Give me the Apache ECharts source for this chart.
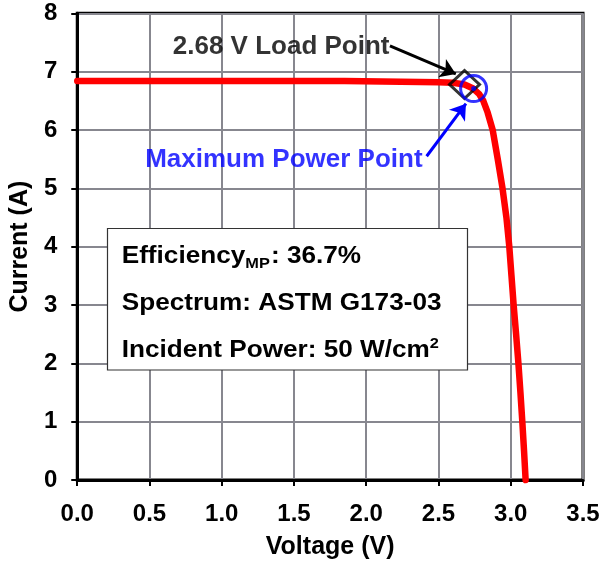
<!DOCTYPE html>
<html><head><meta charset="utf-8">
<script src="https://cdn.jsdelivr.net/npm/echarts@6/dist/echarts.min.js"></script>
<style>html,body{margin:0;padding:0;background:#fff}#c{width:604px;height:565px}</style>
</head><body><div id="c"></div>
<script>
// ---- data ----
const xTickLabels = ['0.0','0.5','1.0','1.5','2.0','2.5','3.0','3.5'];
const yTickLabels = ['0','1','2','3','4','5','6','7','8'];
const voltage = [0, 1.85, 1.85, 2.50, 2.60, 2.68, 2.74, 2.78, 2.81, 2.84, 2.875, 2.91, 2.943, 2.97, 2.99, 3.005, 3.02, 3.037, 3.053, 3.067, 3.08, 3.092, 3.103];
const current = [6.84, 6.84, 6.82, 6.82, 6.81, 6.78, 6.71, 6.62, 6.50, 6.30, 6.00, 5.50, 5.00, 4.50, 4.00, 3.50, 3.00, 2.50, 2.00, 1.50, 1.00, 0.50, 0];
const loadPoint = [2.68, 6.78];
const maxPowerPoint = [2.743, 6.71];
const loadArrow = [[2.164, 7.44], [2.62, 6.96]];
const mppArrow = [[2.418, 5.55], [2.69, 6.45]];
const loadLabel = {text: '2.68 V Load Point', at: [1.411, 7.42]};
const mppLabel = {text: 'Maximum Power Point', at: [1.43, 5.49]};
const xName = 'Voltage (V)';
const yName = 'Current (A)';
const infoLines = [
  [['Efficiency', 'n'], ['MP', 'sub'], [': 36.7%', 'n']],
  [['Spectrum: ASTM G173-03', 'n']],
  [['Incident Power: 50 W/cm', 'n'], ['2', 'sup']]
];

const FONT = '"Liberation Sans", Arial, sans-serif';
const chart = echarts.init(document.getElementById('c'), null, {renderer: 'canvas'});

// text measure helper for the info box layout
const mctx = document.createElement('canvas').getContext('2d');
function tw(t, size) { mctx.font = 'bold ' + size + 'px ' + FONT; return mctx.measureText(t).width; }

const boxX = 107.5, boxY = 228.5, boxW = 360, boxH = 141.5;
const baselines = [264, 310.7, 357.7];
const infoChildren = [{
  type: 'rect', z: 100, shape: {x: boxX, y: boxY, width: boxW, height: boxH},
  style: {fill: '#fff', stroke: '#333', lineWidth: 1.2}
}];
const textGroupChildren = [];
infoLines.forEach((line, li) => {
  let x = 0;
  line.forEach(([t, kind]) => {
    const size = kind === 'n' ? 24 : 15;
    const dy = kind === 'sub' ? 5 : kind === 'sup' ? -9 : 0;
    textGroupChildren.push({
      type: 'text', z: 101,
      style: {text: t, x: x, y: baselines[li] + dy - size * 0.32, font: 'bold ' + size + 'px ' + FONT,
        fill: '#000', textAlign: 'left', textVerticalAlign: 'middle'}
    });
    x += tw(t, size) + (kind !== 'n' ? 1 : 0);
  });
});
infoChildren.push({type: 'group', z: 101, x: 121.7, y: 0, scaleX: 1.09, children: textGroupChildren});

const option = {
  animation: false,
  backgroundColor: '#fff',
  grid: {left: 72, right: 21, top: 13.3, bottom: 83.3, show: true, borderColor: '#000', borderWidth: 3, containLabel: false},
  xAxis: {
    type: 'value', min: 0, max: 3.5, interval: 0.5,
    name: xName, nameLocation: 'middle', nameGap: 55,
    nameTextStyle: {fontSize: 25, fontWeight: 'bold', color: '#000', fontFamily: FONT},
    axisLine: {show: true, onZero: false, lineStyle: {color: '#000', width: 3}},
    axisTick: {show: true, length: 6, lineStyle: {color: '#000', width: 2}},
    axisLabel: {formatter: (v, i) => xTickLabels[i], fontSize: 24, fontWeight: 'bold', color: '#000', margin: 22, fontFamily: FONT},
    splitLine: {show: true, lineStyle: {color: '#87878f', width: 2}}
  },
  yAxis: {
    type: 'value', min: 0, max: 8, interval: 1,
    name: yName, nameLocation: 'middle', nameGap: 34, nameRotate: 90,
    nameTextStyle: {fontSize: 25, fontWeight: 'bold', color: '#000', fontFamily: FONT},
    axisLine: {show: true, onZero: false, lineStyle: {color: '#000', width: 3}},
    axisTick: {show: true, length: 6, lineStyle: {color: '#000', width: 2}},
    axisLabel: {formatter: (v, i) => yTickLabels[i], fontSize: 24, fontWeight: 'bold', color: '#000', margin: 20, fontFamily: FONT},
    splitLine: {show: true, lineStyle: {color: '#87878f', width: 2}}
  },
  series: [
    {
      type: 'line', name: 'IV', data: voltage.map((v, i) => [v, current[i]]),
      symbol: 'none', smooth: false, clip: false, z: 3,
      lineStyle: {color: '#ff0000', width: 6.5, cap: 'round', join: 'round'}
    },
    {
      type: 'scatter', name: 'Load', data: [loadPoint], symbol: 'diamond', symbolSize: [30, 28], z: 4,
      itemStyle: {color: 'rgba(0,0,0,0)', borderColor: '#000', borderWidth: 3}
    },
    {
      type: 'scatter', name: 'MPP', data: [maxPowerPoint], symbol: 'circle', symbolSize: 26, z: 5,
      itemStyle: {color: 'rgba(0,0,0,0)', borderColor: '#0000ff', borderWidth: 3}
    },
    {
      type: 'scatter', name: 'MPPdot', data: [maxPowerPoint], symbol: 'circle', symbolSize: 5, z: 6,
      itemStyle: {color: '#0000ff'}
    },
    {
      type: 'scatter', name: 'notes', symbolSize: 0, z: 7,
      data: [
        {value: loadLabel.at, label: {show: true, position: 'inside', formatter: loadLabel.text, fontSize: 26, fontWeight: 'bold', color: '#000', fontFamily: FONT}},
        {value: mppLabel.at, label: {show: true, position: 'inside', formatter: mppLabel.text, fontSize: 26, fontWeight: 'bold', color: '#0000ff', fontFamily: FONT}}
      ],
      markLine: {
        silent: true, symbol: ['none', 'arrow'], symbolSize: 15, label: {show: false},
        data: [
          [{coord: loadArrow[0], lineStyle: {color: '#000', width: 3, type: 'solid'}}, {coord: loadArrow[1]}],
          [{coord: mppArrow[0], lineStyle: {color: '#0000ff', width: 3, type: 'solid'}}, {coord: mppArrow[1]}]
        ]
      }
    }
  ],
  graphic: [{type: 'group', z: 100, children: infoChildren}]
};
chart.setOption(option);
</script>
</body></html>
